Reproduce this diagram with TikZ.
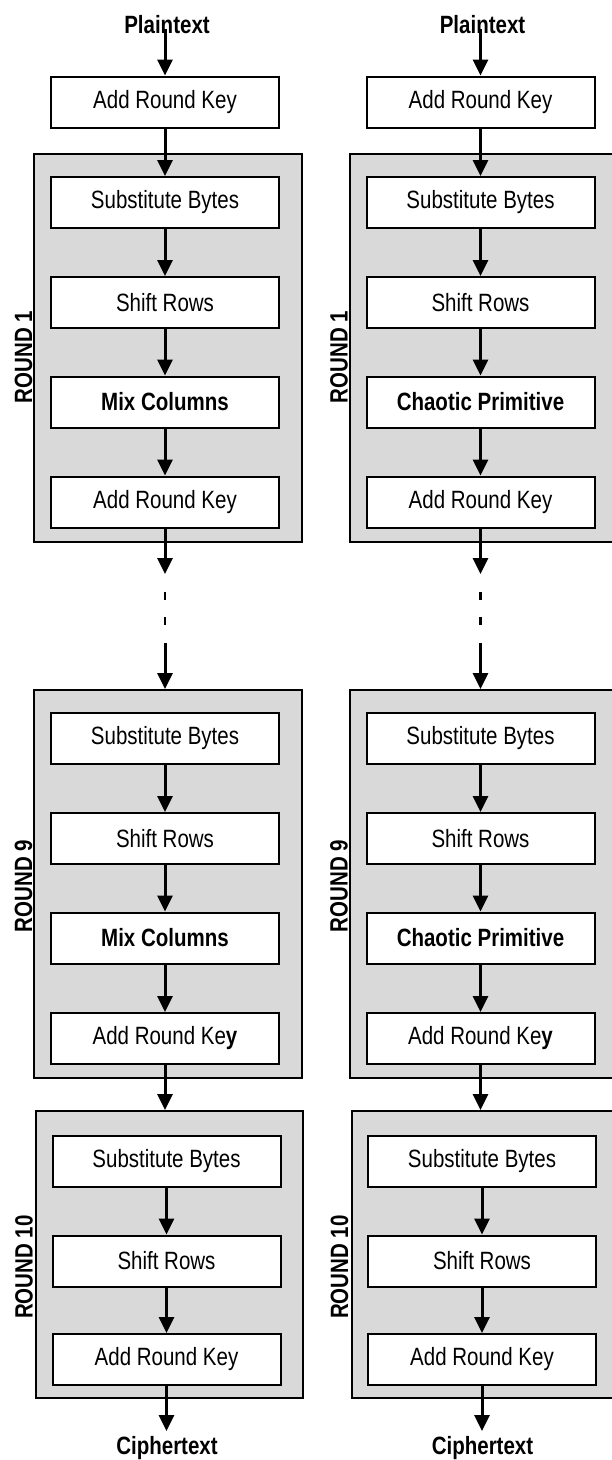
\documentclass[tikz,border=0pt]{standalone}
\usepackage{fontspec}
\setmainfont{Liberation Sans}[FakeStretch=0.82]
\usetikzlibrary{arrows.meta}
\definecolor{roundgray}{HTML}{D9D9D9}
\begin{document}
\begin{tikzpicture}[x=1pt,y=-1pt,
  txt/.style={font=\fontsize{25}{28}\selectfont},
  stage/.style={draw, line width=2pt, fill=white, minimum width=228pt, minimum height=51pt, inner sep=0pt, txt},
  roundbox/.style={draw, line width=2pt, fill=roundgray, inner sep=0pt},
  arr/.style={line width=3pt, -{Triangle[width=15pt,length=16pt]}},
  dashline/.style={line width=2.5pt, dash pattern=on 8pt off 17pt},
  lbl/.style={font=\bfseries\fontsize{25}{28}\selectfont, inner sep=0pt},
  rlbl/.style={lbl, rotate=90}]
\clip (0,0) rectangle (612,1460);
\foreach \c/\dx/\mc in {L/0/Mix Columns, R/315.5/Chaotic Primitive}{
  % round containers
  \node[roundbox, minimum width=268pt, minimum height=388pt] (rA\c) at ({168+\dx},348) {};
  \node[roundbox, minimum width=268pt, minimum height=388pt] (rB\c) at ({168+\dx},884) {};
  \node[roundbox, minimum width=267pt, minimum height=287pt] (rC\c) at ({169.5+\dx},1254.5) {};
  % round labels
  \node[rlbl] (lA\c) at ({23.5+\dx},357) {ROUND 1};
  \node[rlbl] (lB\c) at ({23.5+\dx},886) {ROUND 9};
  \node[rlbl] (lC\c) at ({24+\dx},1267) {ROUND 10};
  % input / output
  \node[lbl] (pt\c) at ({167+\dx},25) {Plaintext};
  \coordinate (ps\c) at ({165+\dx},29);
  \node[lbl] (ct\c) at ({167+\dx},1448) {Ciphertext};
  \coordinate (ce\c) at ({166.5+\dx},1431);
  % initial key
  \node[stage] (k0\c) at ({165+\dx},102) {Add Round Key};
  % round 1
  \node[stage] (sA\c) at ({165+\dx},202.5) {Substitute Bytes};
  \node[stage] (hA\c) at ({165+\dx},302.5) {Shift Rows};
  \node[stage] (mA\c) at ({165+\dx},402) {\textbf{\mc}};
  \node[stage] (kA\c) at ({165+\dx},502) {Add Round Key};
  % round 9
  \node[stage] (sB\c) at ({165+\dx},738.5) {Substitute Bytes};
  \node[stage] (hB\c) at ({165+\dx},838.5) {Shift Rows};
  \node[stage] (mB\c) at ({165+\dx},938) {\textbf{\mc}};
  \node[stage] (kB\c) at ({165+\dx},1038.5) {Add Round Ke\textbf{y}};
  % round 10
  \node[stage] (sC\c) at ({166.5+\dx},1161) {Substitute Bytes};
  \node[stage] (hC\c) at ({166.5+\dx},1261) {Shift Rows};
  \node[stage] (kC\c) at ({166.5+\dx},1359.5) {Add Round Key};
  % gap coordinates
  \coordinate (g0\c) at ({165+\dx},574);
  \coordinate (g1\c) at ({165+\dx},592);
  \coordinate (g2\c) at ({165+\dx},625);
  \coordinate (g3\c) at ({165+\dx},643);
  % connectors
  \draw[arr] (ps\c) -- (k0\c.north);
  \draw[arr] (k0\c.south) -- (sA\c.north);
  \draw[arr] (sA\c.south) -- (hA\c.north);
  \draw[arr] (hA\c.south) -- (mA\c.north);
  \draw[arr] (mA\c.south) -- (kA\c.north);
  \draw[arr] (kA\c.south) -- (g0\c);
  \draw[dashline] (g1\c) -- (g2\c);
  \draw[arr] (g3\c) -- (g3\c |- rB\c.north);
  \draw[arr] (sB\c.south) -- (hB\c.north);
  \draw[arr] (hB\c.south) -- (mB\c.north);
  \draw[arr] (mB\c.south) -- (kB\c.north);
  \draw[arr] (kB\c.south) -- (kB\c.south |- rC\c.north);
  \draw[arr] (sC\c.south) -- (hC\c.north);
  \draw[arr] (hC\c.south) -- (kC\c.north);
  \draw[arr] (kC\c.south) -- (ce\c);
}
\end{tikzpicture}
\end{document}
